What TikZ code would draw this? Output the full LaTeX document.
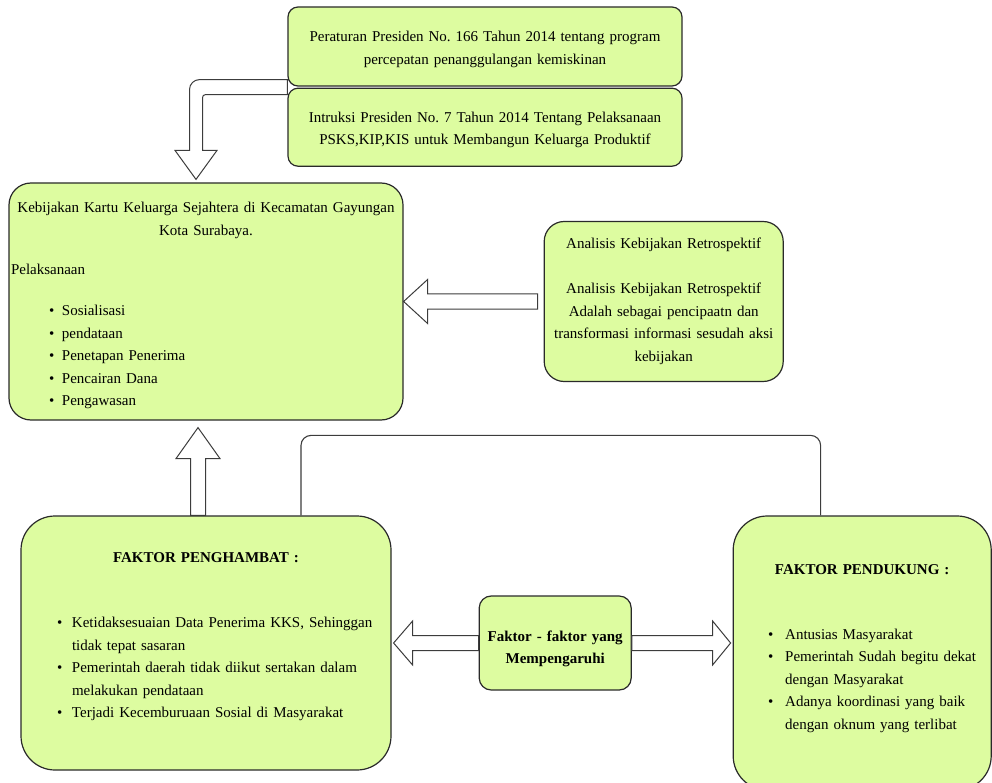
\documentclass[tikz,border=0pt]{standalone}
\usepackage{fontspec}
\setmainfont{Liberation Serif}
\usepackage{tikz}
\usetikzlibrary{positioning,calc}
\setlength{\parindent}{0pt}
\frenchspacing
\definecolor{hijaumuda}{HTML}{DDFCA0}
\definecolor{tinta}{HTML}{2A2A2A}
\definecolor{tintalembut}{HTML}{3C3C3C}
\newlength{\butirtitik}
\newlength{\butirteks}
\newcommand{\lanjut}{\hfil\break}
\newcommand{\butir}[1]{\par\hangindent=\butirteks\hangafter=1\noindent
  \hspace*{\butirtitik}\makebox[\dimexpr\butirteks-\butirtitik\relax][l]{\textbullet}#1\par}
\def\kepala{22pt}
\def\batang{7.5pt}
\newcommand{\panahblok}[3][20pt]{%
  \path ($(#3)!#1!(#2)$) coordinate (pb-dasar);
  \draw[blok] (#3)
    -- ($(pb-dasar)!\kepala!90:(#3)$) -- ($(pb-dasar)!\batang!90:(#3)$)
    -- ($(#2)!\batang!90:(#3)$) -- ($(#2)!\batang!-90:(#3)$)
    -- ($(pb-dasar)!\batang!-90:(#3)$) -- ($(pb-dasar)!\kepala!-90:(#3)$) -- cycle;}
\tikzset{
  kotak/.style={rectangle,draw=tinta,line width=1.2pt,fill=hijaumuda,text=black,
    inner ysep=0pt,font=\fontsize{15}{22.5}\selectfont},
  blok/.style={draw=tintalembut,line width=1pt,fill=white,line join=miter},
  hubung/.style={draw=tintalembut,line width=1.1pt,rounded corners=10pt},
}
\begin{document}
\begin{tikzpicture}[x=1pt,y=1pt]
  \useasboundingbox (0,0) rectangle (992,-783);

  \node[kotak,rounded corners=10pt,align=center,text width=386pt,inner xsep=4pt,
    minimum height=79pt,font=\fontsize{15}{22.5}\selectfont] (pp166) at (485,-46.5)
    {\rule{0pt}{16pt}Peraturan Presiden No. 166 Tahun 2014 tentang program\\percepatan penanggulangan kemiskinan};
  \node[kotak,rounded corners=10pt,align=center,text width=386pt,inner xsep=4pt,
    minimum height=78pt,font=\fontsize{15}{22.5}\selectfont,below=1pt of pp166] (inpres)
    {\rule{0pt}{16pt}Intruksi Presiden No. 7 Tahun 2014 Tentang Pelaksanaan\\PSKS,KIP,KIS untuk Membangun Keluarga Produktif};

  \node[kotak,rounded corners=22pt,text width=390pt,inner xsep=2pt,minimum height=237pt] (kks) at (206,-301.5) {%
    {\centering\rule{0pt}{19pt}Kebijakan Kartu Keluarga Sejahtera di Kecamatan Gayungan\\Kota Surabaya.\par}
    \vspace{17pt}Pelaksanaan\par\vspace{18.5pt}%
    \setlength{\butirtitik}{38pt}\setlength{\butirteks}{51pt}%
    \butir{Sosialisasi}\butir{pendataan}\butir{Penetapan Penerima}%
    \butir{Pencairan Dana}\butir{Pengawasan}};

  \node[kotak,rounded corners=20pt,align=center,text width=231pt,inner xsep=4pt,minimum height=160pt,
    right=140pt of kks] (retro)
    {Analisis Kebijakan Retrospektif\\[22.5pt]Analisis Kebijakan Retrospektif\\
     Adalah sebagai pencipaatn dan\\transformasi informasi sesudah aksi\\kebijakan};

  \node[kotak,rounded corners=34pt,text width=354pt,inner xsep=8pt,minimum height=254pt] (hambat) at (206,-643) {%
    {\centering\bfseries FAKTOR PENGHAMBAT :\par}
    \vspace{42.5pt}%
    \setlength{\butirtitik}{28pt}\setlength{\butirteks}{43pt}%
    \butir{Ketidaksesuaian Data Penerima KKS, Sehinggan\lanjut tidak tepat sasaran}%
    \butir{Pemerintah daerah tidak diikut sertakan dalam\lanjut melakukan pendataan}%
    \butir{Terjadi Kecemburuaan Sosial di Masyarakat\rule[-15pt]{0pt}{0pt}}};

  \node[kotak,rounded corners=12pt,align=center,text width=144pt,inner xsep=4pt,minimum height=94pt,
    font=\fontsize{15}{22}\selectfont\bfseries,right=87pt of hambat] (faktor)
    {\rule{0pt}{22pt}Faktor - faktor yang\\Mempengaruhi};

  \node[kotak,rounded corners=34pt,text width=242pt,inner xsep=8pt,minimum height=274pt,
    below right=0pt and 341pt of hambat.north east] (dukung) {%
    {\centering\bfseries FAKTOR PENDUKUNG :\par}
    \vspace{42.5pt}%
    \setlength{\butirtitik}{27pt}\setlength{\butirteks}{44pt}%
    \butir{Antusias Masyarakat}%
    \butir{Pemerintah Sudah begitu dekat\lanjut dengan Masyarakat}%
    \butir{Adanya koordinasi yang baik\lanjut dengan oknum yang terlibat\rule[-12pt]{0pt}{0pt}}};

  \coordinate (ekorpp) at ($(pp166.south west)!0.5!(inpres.north west)$);
  \coordinate (ujungkks) at ($(kks.north)+(-10pt,3pt)$);
  \draw[blok] let \p1=(ekorpp), \p2=(ujungkks) in
    (\x1,\y1+7.5pt) -- (\x2+3.5pt,\y1+7.5pt) arc[start angle=90,end angle=180,radius=10pt]
    -- (\x2-6.5pt,\y2+29pt) -- (\x2-21pt,\y2+29pt) -- (\p2) -- (\x2+21pt,\y2+29pt)
    -- (\x2+6.5pt,\y2+29pt) -- (\x2+6.5pt,\y1-10.5pt) arc[start angle=180,end angle=90,radius=3pt]
    -- (\x1,\y1-7.5pt) -- cycle;

  \coordinate (ekorretro) at ($(retro.west)+(-6pt,0)$);
  \panahblok[24pt]{ekorretro}{kks.east}
  \coordinate (ekorhambat) at ($(hambat.north)+(-8pt,0)$);
  \coordinate (ujungatas) at ($(kks.south)+(-8pt,-7pt)$);
  \panahblok[31pt]{ekorhambat}{ujungatas}
  \coordinate (ujungkiri) at ($(hambat.east)+(2pt,0)$);
  \panahblok[19pt]{faktor.west}{ujungkiri}
  \coordinate (ujungkanan) at ($(faktor.east -| dukung.west)+(-2pt,0)$);
  \panahblok[18pt]{faktor.east}{ujungkanan}

  \coordinate (garisA) at ($(hambat.north)+(95pt,0)$);
  \coordinate (garisB) at ($(dukung.north west)+(88pt,0)$);
  \draw[hubung] (garisA) -- ++(0,80pt) -| (garisB);
\end{tikzpicture}
\end{document}
